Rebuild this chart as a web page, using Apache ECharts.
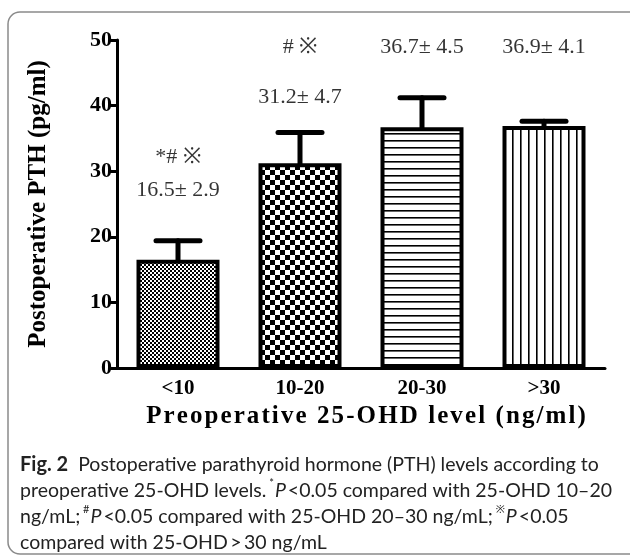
<!DOCTYPE html>
<html>
<head>
<meta charset="utf-8">
<script src="https://cdn.jsdelivr.net/npm/echarts@6/dist/echarts.min.js"></script>
<style>
  html, body { margin: 0; padding: 0; background: #fff; }
  #chart { width: 630px; height: 559px; }
</style>
</head>
<body>
<div id="chart"></div>
<script>
// data
var categories = ['<10', '10-20', '20-30', '>30'];
var meanPTH = [16.5, 31.2, 36.7, 36.9];
var sdPTH = [2.9, 4.7, 4.5, 4.1];
// error bar drawn in the figure (bar 4 is shown much shorter than its SD)
var errDrawn = [2.9, 4.7, 4.5, 0.7];
var sigMarks = ['*# \u203B', '# \u203B', '', ''];
var yTicks = [0, 10, 20, 30, 40, 50];

// where the annotation text sits, in axis units
var meanLabelAt = [27.1, 41.3, 48.9, 48.9];
var sigLabelAt = [32.2, 48.9, null, null];

var serif = '"Liberation Serif", "Times New Roman", serif';
var sans = 'Lato, "Noto Sans", sans-serif';

// spread letters a little, like the original axis title
function spaced(s) { return s.split('').join('\u200A'); }

// fill patterns for the bars
function makePattern(kind) {
    var c = document.createElement('canvas');
    var ctx;
    if (kind === 'fine') {
        c.width = 4; c.height = 4;
        ctx = c.getContext('2d');
        ctx.fillStyle = '#fff'; ctx.fillRect(0, 0, 4, 4);
        ctx.fillStyle = '#000';
        ctx.fillRect(0, 0, 2, 2); ctx.fillRect(2, 2, 2, 2);
    } else if (kind === 'checker') {
        c.width = 10; c.height = 10;
        ctx = c.getContext('2d');
        ctx.fillStyle = '#fff'; ctx.fillRect(0, 0, 10, 10);
        ctx.fillStyle = '#000';
        ctx.fillRect(0, 0, 5, 5); ctx.fillRect(5, 5, 5, 5);
    } else if (kind === 'hlines') {
        c.width = 7; c.height = 7;
        ctx = c.getContext('2d');
        ctx.fillStyle = '#fff'; ctx.fillRect(0, 0, 7, 7);
        ctx.fillStyle = '#000'; ctx.fillRect(0, 0, 7, 1.6);
    } else {
        c.width = 8; c.height = 8;
        ctx = c.getContext('2d');
        ctx.fillStyle = '#fff'; ctx.fillRect(0, 0, 8, 8);
        ctx.fillStyle = '#000'; ctx.fillRect(0, 0, 1.6, 8);
    }
    return { image: c, repeat: 'repeat' };
}
var patterns = [makePattern('fine'), makePattern('checker'), makePattern('hlines'), makePattern('vlines')];

var chart = echarts.init(document.getElementById('chart'), null, { renderer: 'canvas' });

var barData = meanPTH.map(function (v, i) {
    return { value: v, itemStyle: { color: patterns[i] } };
});

var errData = meanPTH.map(function (v, i) { return [i, v, v + errDrawn[i]]; });

var meanLabels = [];
var sigLabels = [];
categories.forEach(function (c, i) {
    meanLabels.push({ value: [i, meanLabelAt[i]], text: meanPTH[i].toFixed(1) + '\u00B1 ' + sdPTH[i].toFixed(1) });
    if (sigMarks[i]) sigLabels.push({ value: [i, sigLabelAt[i]], text: sigMarks[i] });
});

var option = {
    animation: false,
    backgroundColor: '#fff',
    grid: { left: 117, right: 25, top: 40, bottom: 191 },
    xAxis: {
        type: 'category',
        data: categories,
        name: spaced('Preoperative 25-OHD level (ng/ml)'),
        nameLocation: 'middle',
        nameGap: 30,
        nameTextStyle: { fontFamily: serif, fontWeight: 'bold', fontSize: 25, color: '#000', padding: [0, 0, 0, 10] },
        axisLine: { lineStyle: { color: '#000', width: 3 } },
        axisTick: { alignWithLabel: true, length: 8, lineStyle: { color: '#000', width: 3 } },
        axisLabel: { fontFamily: serif, fontWeight: 'bold', fontSize: 21, color: '#000', margin: 10 }
    },
    yAxis: {
        type: 'value',
        min: 0, max: 50, interval: 10,
        name: 'Postoperative PTH (pg/ml)',
        nameLocation: 'middle',
        nameGap: 66,
        nameRotate: 90,
        nameTextStyle: { fontFamily: serif, fontWeight: 'bold', fontSize: 25, color: '#000' },
        splitLine: { show: false },
        axisLine: { show: true, lineStyle: { color: '#000', width: 3 } },
        axisTick: { show: true, length: 7, lineStyle: { color: '#000', width: 3 } },
        axisLabel: {
            fontFamily: serif, fontWeight: 'bold', fontSize: 22, color: '#000', margin: 5,
            formatter: function (v) { return yTicks.indexOf(v) >= 0 ? String(v) : ''; }
        }
    },
    series: [
        {
            type: 'bar',
            data: barData,
            barWidth: 83,
            itemStyle: { borderColor: '#000', borderWidth: 4 },
            z: 2
        },
        {
            type: 'custom',
            data: errData,
            z: 3,
            renderItem: function (params, api) {
                var x = api.value(0);
                var base = api.coord([x, api.value(1)]);
                var top = api.coord([x, api.value(2)]);
                var half = 22;
                var st = { stroke: '#000', lineWidth: 5, lineCap: 'round' };
                return {
                    type: 'group',
                    children: [
                        { type: 'line', shape: { x1: base[0], y1: base[1], x2: top[0], y2: top[1] }, style: st },
                        { type: 'line', shape: { x1: top[0] - half, y1: top[1], x2: top[0] + half, y2: top[1] }, style: st }
                    ]
                };
            }
        },
        {
            type: 'scatter',
            data: meanLabels,
            symbolSize: 0,
            silent: true,
            label: {
                show: true, position: 'inside',
                fontFamily: serif, fontSize: 22, color: '#000',
                formatter: function (p) { return p.data.text; }
            }
        },
        {
            type: 'scatter',
            data: sigLabels,
            symbolSize: 0,
            silent: true,
            label: {
                show: true, position: 'inside',
                fontFamily: serif, fontSize: 22, color: '#000',
                formatter: function (p) { return p.data.text; }
            }
        }
    ],
    graphic: [
        {
            type: 'rect',
            shape: { x: 8, y: 12, width: 640, height: 542, r: 12 },
            style: { fill: 'none', stroke: '#8a8a8a', lineWidth: 1.5 },
            silent: true
        },
        {
            type: 'text',
            left: 20, top: 452,
            style: {
                text: '{b|Fig. 2}  Postoperative parathyroid hormone (PTH) levels according to\n' +
                      'preoperative 25-OHD levels.{s| *}{i|P}<0.05 compared with 25-OHD 10\u201320\n' +
                      'ng/mL;{s| #}{i|P}<0.05 compared with 25-OHD 20\u201330 ng/mL;{s| \u203B}{i|P}<0.05\n' +
                      'compared with 25-OHD\u2009>\u200930 ng/mL',
                font: '19.5px ' + sans,
                fill: '#222',
                lineHeight: 26,
                rich: {
                    b: { fontFamily: sans, fontWeight: 'bold', fontSize: 20, fill: '#222', lineHeight: 26 },
                    i: { fontFamily: sans, fontStyle: 'italic', fontSize: 19.5, fill: '#222', lineHeight: 26, padding: [0, 2, 0, 0] },
                    s: { fontFamily: sans, fontSize: 11, fill: '#222', verticalAlign: 'top', lineHeight: 26, padding: [0, 1, 8, 0] }
                }
            }
        }
    ]
};

chart.setOption(option);
</script>
</body>
</html>
